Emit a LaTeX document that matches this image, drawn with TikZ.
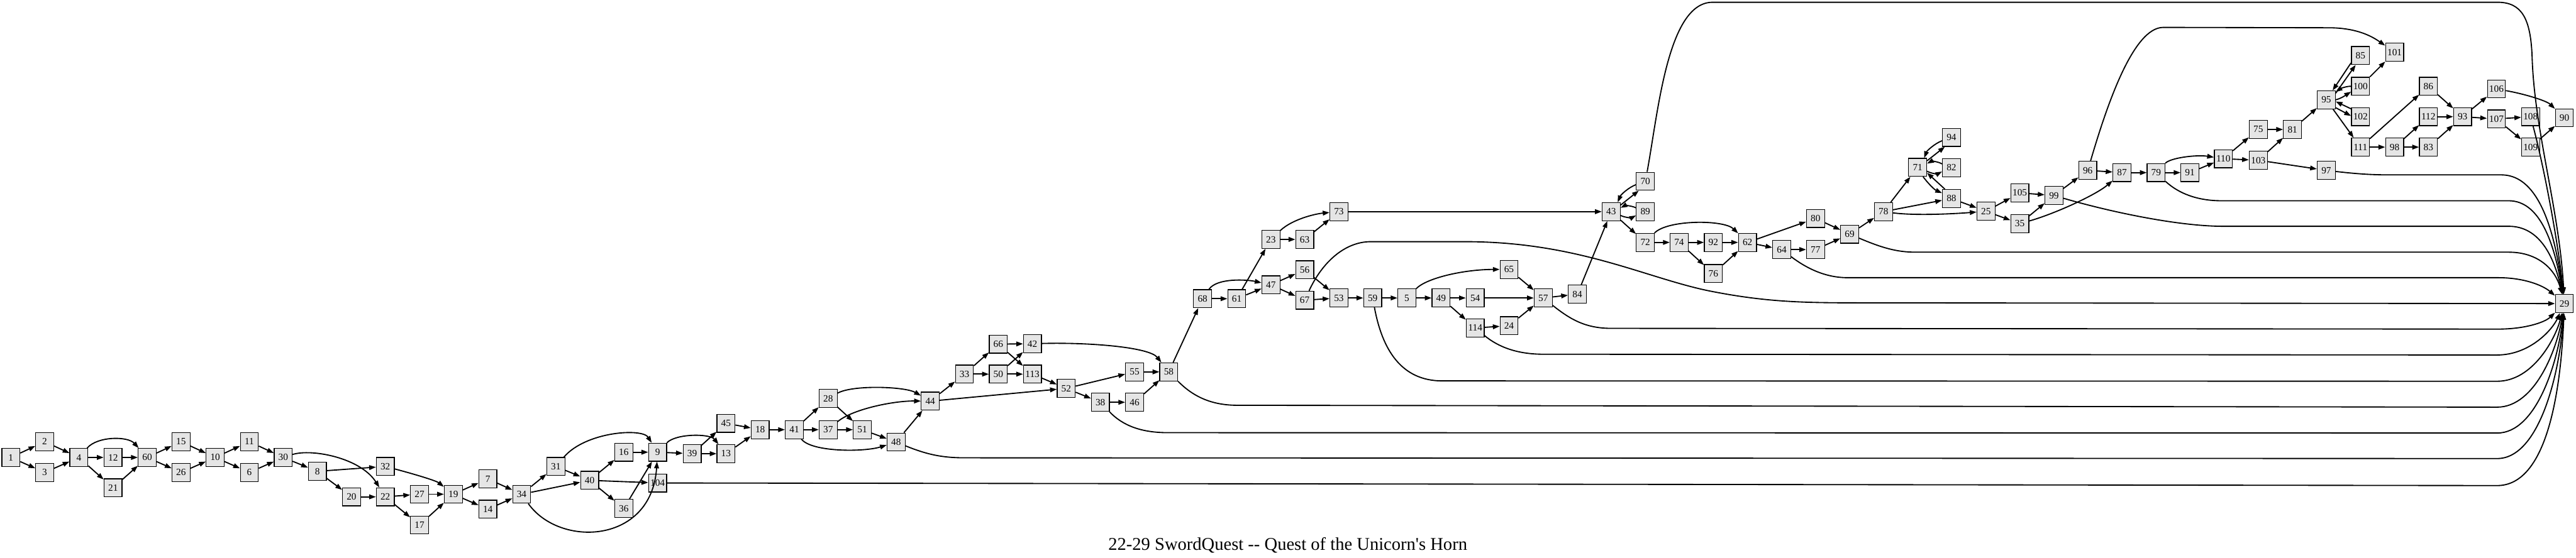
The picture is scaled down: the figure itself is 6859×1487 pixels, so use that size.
\documentclass[tikz,border=0pt]{standalone}
\usepackage{fontspec}
\setmainfont{Liberation Serif}
\usetikzlibrary{arrows.meta}
\definecolor{nodegray}{RGB}{229,229,229}
\begin{document}
\begin{tikzpicture}[x=0.01cm,y=-0.01cm,
  nd/.style={draw, line width=0.02cm, fill=nodegray, minimum width=0.48cm, minimum height=0.48cm, inner sep=0pt, font=\fontsize{7.3pt}{9pt}\selectfont},
  e/.style={line width=0.031cm, -{Triangle[length=0.18cm,width=0.125cm]}}]
\useasboundingbox (0,0) rectangle (6859,1487);
\fill[white] (0,0) rectangle (6859,1487);
\foreach \nm/\px/\py in {1/29/1219, 2/119/1177, 3/119/1259, 4/210/1219, 12/301/1219, 21/301/1300,
  60/392/1219, 15/482/1177, 26/482/1259, 10/573/1219, 11/664/1177, 6/664/1259, 30/754/1219,
  8/845/1256, 20/936/1324, 32/1026/1243, 22/1026/1324, 27/1117/1317, 17/1117/1399, 19/1207/1317,
  7/1299/1276, 14/1299/1357, 34/1389/1317, 31/1480/1243, 40/1570/1280, 16/1661/1205, 36/1661/1355,
  9/1751/1205, 104/1751/1287, 39/1843/1209, 45/1933/1128, 13/1933/1209, 18/2024/1145, 41/2115/1145,
  28/2205/1062, 37/2205/1145, 51/2296/1145, 48/2386/1178, 44/2477/1069, 33/2568/997, 66/2658/917,
  50/2658/997, 42/2749/916, 113/2749/997, 52/2839/1035, 38/2930/1072, 55/3021/991, 46/3021/1072,
  58/3112/991, 68/3202/796, 61/3293/796, 23/3384/638, 63/3474/638, 47/3384/759, 56/3474/719,
  67/3474/800, 73/3565/564, 53/3565/794, 59/3655/794, 5/3746/794, 49/3837/794, 54/3928/794,
  65/4018/718, 114/3928/874, 24/4018/868, 57/4109/794, 84/4200/784, 43/4290/564, 70/4381/483,
  89/4381/564, 72/4381/646, 74/4471/646, 92/4562/646, 76/4562/729, 62/4653/646, 64/4744/665,
  80/4834/582, 77/4834/665, 69/4925/624, 78/5015/564, 71/5106/446, 94/5196/366, 82/5196/447,
  88/5196/529, 25/5288/563, 105/5378/514, 35/5378/596, 99/5469/521, 96/5559/454, 87/5650/460,
  79/5741/460, 91/5831/460, 110/5920/423, 75/6013/345, 103/6013/427, 81/6104/345, 97/6194/454,
  95/6194/266, 85/6285/148, 101/6376/139, 100/6285/230, 102/6285/311, 111/6285/392, 98/6376/392,
  86/6466/230, 112/6466/311, 83/6466/392, 93/6557/311, 106/6647/237, 107/6647/317, 108/6738/311,
  109/6738/392, 90/6828/314, 29/6828/809}
  \node[nd] (n\nm) at (\px,\py) {\nm};
% straight edges
\foreach \sa/\sb in {1/2,1/3,2/4,3/4,4/12,4/21,12/60,21/60,60/15,60/26,15/10,26/10,10/11,10/6,11/30,6/30,
  30/8,8/32,8/20,20/22,22/27,22/17,27/19,17/19,19/7,19/14,7/34,14/34,34/31,34/40,31/40,40/16,40/104,
  40/36,16/9,36/9,9/39,39/45,39/13,45/18,13/18,18/41,41/28,41/37,28/51,37/51,51/48,48/44,44/33,44/52,
  33/66,33/50,66/42,66/113,50/42,50/113,113/52,52/55,52/38,55/58,38/46,46/58,58/68,68/61,61/47,61/23,
  23/63,63/73,47/56,47/67,56/53,67/53,53/59,59/5,5/49,49/54,49/114,54/57,65/57,114/24,24/57,57/84,
  84/43,73/43,43/72,72/74,74/92,74/76,92/62,76/62,62/80,62/64,64/77,80/69,77/69,69/78,78/71,78/88,
  88/25,25/105,25/35,105/99,35/99,99/96,96/87,87/79,79/91,91/110,110/75,110/103,75/81,103/81,103/97,
  81/95,95/111,100/101,111/86,111/98,98/112,98/83,86/93,112/93,83/93,93/106,93/107,107/108,107/109,109/90}
  \draw[e] (n\sa) -- (n\sb);
% curved edges
\draw[e] (n4) .. controls (260,1162) and (340,1162) .. (n60);
\draw[e] (n30) .. controls (830,1195) and (960,1220) .. (n22);
\draw[e] (n32) .. controls (1090,1260) and (1160,1280) .. (n19);
\draw[e] (n31) .. controls (1560,1150) and (1710,1140) .. (n9);
\draw[e] (n34) .. controls (1490,1460) and (1735,1450) .. (n9);
\draw[e] (n9) .. controls (1800,1155) and (1890,1155) .. (n13);
\draw[e] (n41) .. controls (2160,1205) and (2300,1205) .. (n48);
\draw[e] (n28) .. controls (2270,1025) and (2410,1030) .. (n44);
\draw[e] (n37) .. controls (2270,1090) and (2380,1068) .. (n44);
\draw[e] (n42) .. controls (2900,912) and (3060,925) .. (n58);
\draw[e] (n68) .. controls (3240,740) and (3320,745) .. (n47);
\draw[e] (n23) .. controls (3440,585) and (3500,570) .. (n73);
\draw[e] (n5) .. controls (3800,740) and (3900,718) .. (n65);
\draw[e] (n72) .. controls (4440,585) and (4590,585) .. (n62);
\draw[e] (n78) .. controls (5100,575) and (5200,570) .. (n25);
\draw[e] (n35) .. controls (5470,570) and (5580,520) .. (n87);
\draw[e] (n79) .. controls (5780,420) and (5850,412) .. (n110);
\draw[e] (n106) .. controls (6720,250) and (6780,268) .. (n90);
\draw[e] (n96) .. controls (5610,280) and (5680,73) .. (5760,73) -- (6200,74) .. controls (6280,74) and (6320,100) .. (n101);
% two-way pairs
\draw[e] (n70.200) .. controls (4335,500) and (4315,520) .. (n43.55);
\draw[e] (n43.35) -- (n70.-125);
\draw[e] (n89.158) .. controls (4345,548) and (4326,548) .. (n43.22);
\draw[e] (n43.-22) .. controls (4326,580) and (4345,580) .. (n89.-158);
\draw[e] (n94.200) .. controls (5150,383) and (5130,403) .. (n71.55);
\draw[e] (n71.35) -- (n94.-125);
\draw[e] (n82.158) .. controls (5160,430) and (5142,430) .. (n71.22);
\draw[e] (n71.-22) .. controls (5142,463) and (5160,463) .. (n82.-158);
\draw[e] (n71.-60) .. controls (5135,490) and (5150,505) .. (n88.150);
\draw[e] (n88.125) -- (n71.-30);
\draw[e] (n85.218) -- (n95.56);
\draw[e] (n95.35) -- (n85.243);
\draw[e] (n100.180) .. controls (6250,229) and (6232,236) .. (n95.40);
\draw[e] (n95.0) .. controls (6235,262) and (6248,252) .. (n100.-150);
\draw[e] (n102.140) -- (n95.-10);
\draw[e] (n95.-40) -- (n102.175);
% edges into 29
\draw[e] (n104) -- (6649,1294) .. controls (6780,1294) and (6818,1050) .. (n29);
\draw[e] (n48) .. controls (2470,1212) and (2510,1220) .. (2570,1220) -- (6649,1222) .. controls (6760,1222) and (6815,1000) .. (n29);
\draw[e] (n38) .. controls (2990,1135) and (3040,1153) .. (3110,1153) -- (6649,1154) .. controls (6755,1154) and (6812,960) .. (n29);
\draw[e] (n58) .. controls (3180,1060) and (3230,1080) .. (3295,1080) -- (6649,1085) .. controls (6750,1085) and (6808,930) .. (n29);
\draw[e] (n59) .. controls (3680,930) and (3730,1015) .. (3840,1015) -- (6649,1016) .. controls (6745,1016) and (6805,900) .. (n29);
\draw[e] (n114) .. controls (3990,925) and (4040,944) .. (4110,944) -- (6649,946) .. controls (6735,946) and (6795,880) .. (n29);
\draw[e] (n57) .. controls (4180,850) and (4220,875) .. (4290,875) -- (6652,877) .. controls (6720,877) and (6775,860) .. (n29);
\draw[e] (n67) .. controls (3520,700) and (3580,644) .. (3650,644) -- (3900,644) .. controls (4200,644) and (4380,740) .. (4550,775) .. controls (4700,805) and (4800,807) .. (4950,807) -- (n29);
\draw[e] (n64) .. controls (4810,715) and (4860,740) .. (4920,740) -- (6652,740) .. controls (6720,740) and (6770,760) .. (n29);
\draw[e] (n69) .. controls (5010,660) and (5050,672) .. (5100,672) -- (6680,672) .. controls (6760,672) and (6805,720) .. (n29);
\draw[e] (n99) .. controls (5620,565) and (5800,603) .. (5920,603) -- (6680,603) .. controls (6760,603) and (6800,680) .. (n29);
\draw[e] (n79) .. controls (5800,515) and (5850,535) .. (5915,535) -- (6680,535) .. controls (6760,535) and (6800,640) .. (n29);
\draw[e] (n97) .. controls (6280,464) and (6320,466) .. (6360,466) -- (6660,466) .. controls (6740,466) and (6795,560) .. (n29);
\draw[e] (n108) .. controls (6775,450) and (6812,650) .. (n29);
\draw[e] (n70) .. controls (4415,300) and (4440,6) .. (4560,6) -- (6650,6) .. controls (6715,6) and (6738,50) .. (6742,150) .. controls (6748,350) and (6815,560) .. (n29);
% title
\node[font=\fontsize{13.6pt}{16pt}\selectfont, anchor=base, inner sep=0pt] (title) at (3429,1466) {22-29 SwordQuest -{}- Quest of the Unicorn\textquotesingle s Horn};
\end{tikzpicture}
\end{document}
